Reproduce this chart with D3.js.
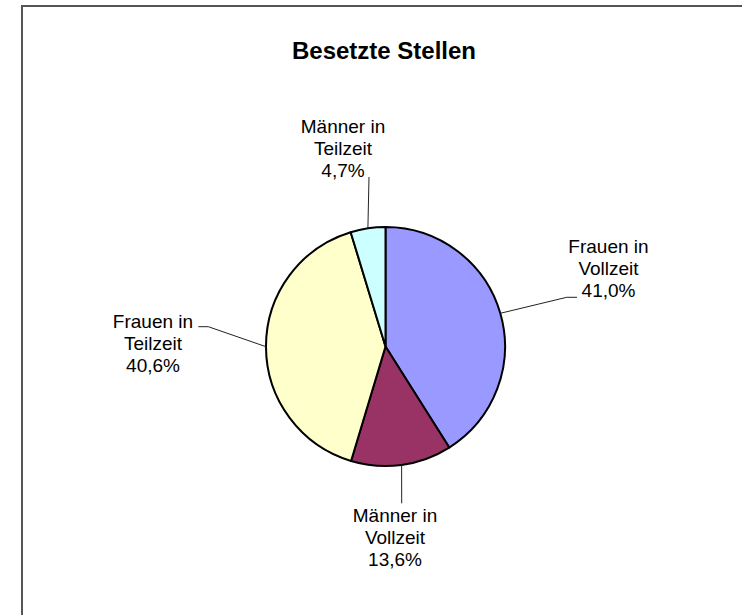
<!DOCTYPE html>
<html>
<head>
<meta charset="utf-8">
<script src="https://cdn.jsdelivr.net/npm/d3@7"></script>
<style>
    html, body { margin: 0; padding: 0; background: #fff; }
    svg { display: block; font-family: "Liberation Sans", Arial, sans-serif; }
</style>
</head>
<body>
<div id="chart"></div>
<script>
// data
var categories = ["Frauen in Vollzeit", "Männer in Vollzeit", "Frauen in Teilzeit", "Männer in Teilzeit"];
var shares = [41.0, 13.6, 40.6, 4.7];
var labelLines = [["Frauen in", "Vollzeit"], ["Männer in", "Vollzeit"], ["Frauen in", "Teilzeit"], ["Männer in", "Teilzeit"]];
var sliceColors = ["#9999FF", "#993366", "#FFFFCC", "#CCFFFF"];

var width = 742;
var height = 615;
var cx = 385.5, cy = 346.5, radius = 119.5;

// where each label sits (text centre x, first baseline y) and the leader bend points
var labelLayout = [
    { x: 608.5, y: 253, leader: [[566.7, 297.3], [577, 297.3]] },
    { x: 395,   y: 522, leader: [[401.7, 503.3]] },
    { x: 153,   y: 327.5, leader: [[208.3, 326.7], [198.3, 326.7]] },
    { x: 343,   y: 133, leader: [[369, 177]] }
];

var svg = d3.select('#chart')
    .append('svg')
    .attr('width', width)
    .attr('height', height);

svg.append('rect')
    .attr('width', width)
    .attr('height', height)
    .attr('fill', '#fff');

// chart frame (only top and left edges are inside the window)
svg.append('path')
    .attr('d', 'M22,' + height + 'V6H' + width)
    .attr('fill', 'none')
    .attr('stroke', '#555')
    .attr('stroke-width', 2);

svg.append('text')
    .attr('x', 384)
    .attr('y', 59)
    .attr('text-anchor', 'middle')
    .attr('font-size', '24px')
    .attr('font-weight', 'bold')
    .attr('fill', '#000')
    .text('Besetzte Stellen');

var pieData = d3.pie()
    .sort(null)
    .value(d => d.value)(categories.map((c, i) => ({ name: c, value: shares[i], i: i })));

var arc = d3.arc()
    .innerRadius(0)
    .outerRadius(radius);

var g = svg.append('g')
    .attr('transform', 'translate(' + cx + ',' + cy + ')');

// leader lines
var fmt = d3.format('.1f');
pieData.forEach(function (d) {
    var mid = (d.startAngle + d.endAngle) / 2;
    var start = [cx + radius * Math.sin(mid), cy - radius * Math.cos(mid)];
    var pts = [start].concat(labelLayout[d.data.i].leader);
    svg.append('path')
        .attr('d', d3.line()(pts))
        .attr('fill', 'none')
        .attr('stroke', '#222')
        .attr('stroke-width', 1);
});

g.selectAll('path.slice')
    .data(pieData)
    .enter()
    .append('path')
    .attr('class', 'slice')
    .attr('d', arc)
    .attr('fill', d => sliceColors[d.data.i])
    .attr('stroke', '#000')
    .attr('stroke-width', 2)
    .attr('stroke-linejoin', 'round');

// labels
pieData.forEach(function (d) {
    var lay = labelLayout[d.data.i];
    var lines = labelLines[d.data.i].concat([fmt(d.data.value).replace('.', ',') + '%']);
    var t = svg.append('text')
        .attr('text-anchor', 'middle')
        .attr('font-size', '19px')
        .attr('fill', '#000');
    lines.forEach(function (line, k) {
        t.append('tspan')
            .attr('x', lay.x)
            .attr('y', lay.y + k * 22)
            .text(line);
    });
});
</script>
</body>
</html>
